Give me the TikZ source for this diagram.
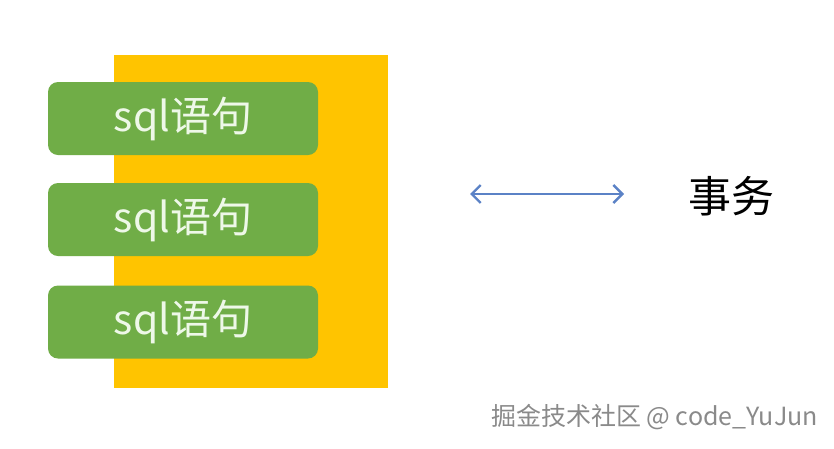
\documentclass[tikz,border=0pt]{standalone}
\usepackage{fontspec}
\newfontfamily\cjk{Noto Sans CJK SC}
\usetikzlibrary{arrows.meta}
\definecolor{ybox}{HTML}{FFC400}
\definecolor{gbox}{HTML}{70AD47}
\definecolor{gtext}{HTML}{EEF8E8}
\definecolor{arrowc}{HTML}{5B82C6}
\definecolor{wm}{HTML}{8A8A8A}
\tikzset{
  sqlbox/.style={fill=gbox, rounded corners=10pt, minimum width=270pt, minimum height=73pt, inner sep=0pt, text=gtext, font=\cjk\fontsize{41}{41}\selectfont},
}
\begin{document}
\begin{tikzpicture}[x=1pt,y=-1pt]
\useasboundingbox (0,0) rectangle (834,448);
\fill[white] (0,0) rectangle (834,448);
\node[fill=ybox, minimum width=274pt, minimum height=333pt, inner sep=0pt, anchor=north west] (ybg) at (114,55) {};
\node[sqlbox] (s1) at (183,118.5) {sql语句\hspace{6pt}};
\node[sqlbox] (s2) at (183,219.5) {sql语句\hspace{6pt}};
\node[sqlbox] (s3) at (183,322) {sql语句\hspace{6pt}};
\node[font=\cjk\fontsize{43}{43}\selectfont, inner sep=0pt] (tx) at (731,196) {事务};
\coordinate (al) at (470,194);
\coordinate (ar) at (624,194);
\draw[arrowc, line width=2.4pt, {Straight Barb[length=9pt,width=18pt]}-{Straight Barb[length=9pt,width=18pt]}] (al) -- (ar);
\node[font=\cjk\fontsize{25}{25}\selectfont, text=wm, anchor=east, inner sep=0pt] (wmk) at (818,417) {掘金技术社区 @ code\_YuJun};
\end{tikzpicture}
\end{document}
